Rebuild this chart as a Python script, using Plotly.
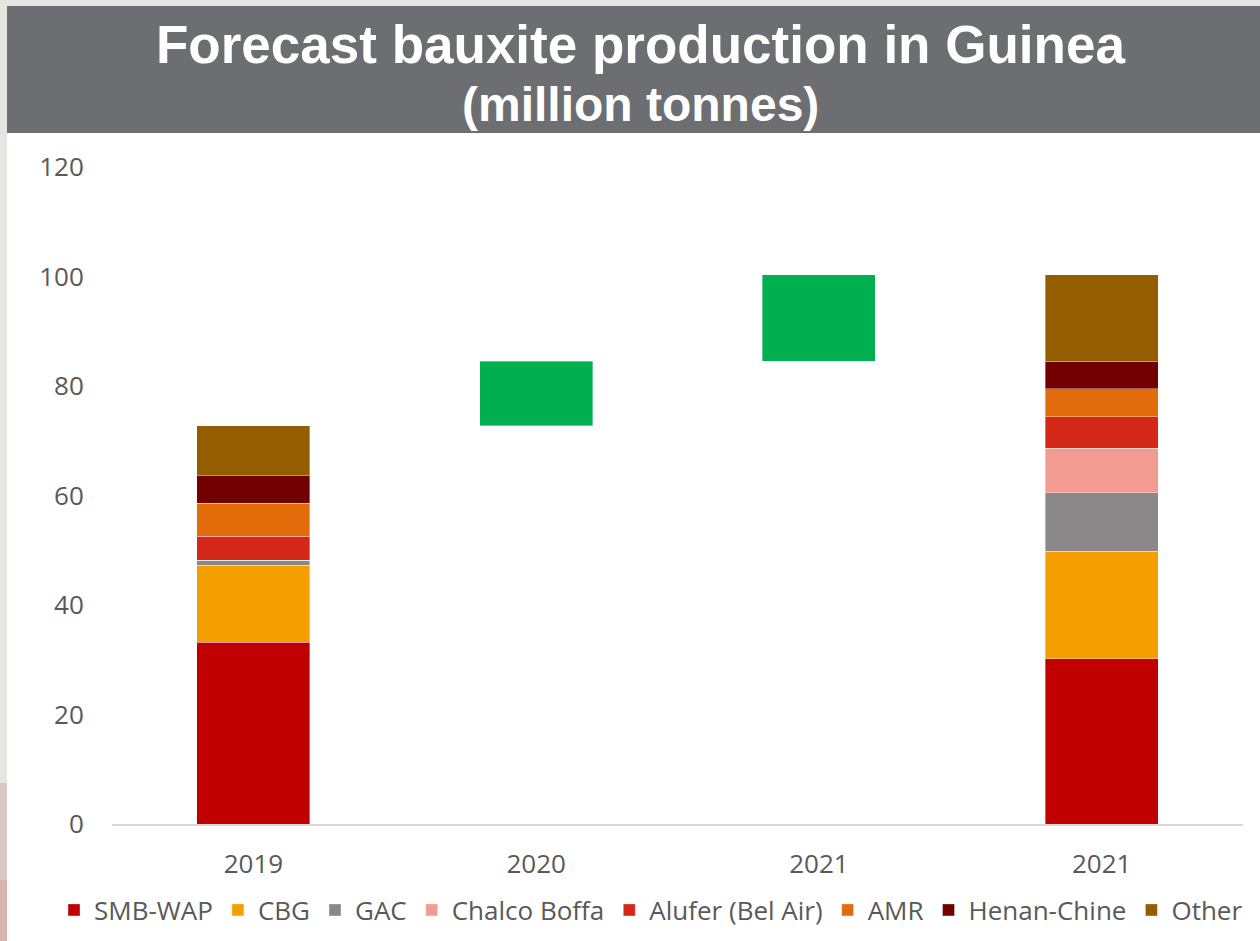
import plotly.graph_objects as go

# ---- data ----
tick_labels = ["2019", "2020", "2021", "2021"]
companies = ["SMB-WAP", "CBG", "GAC", "Chalco Boffa", "Alufer (Bel Air)", "AMR", "Henan-Chine", "Other"]
colors = ["#C00000", "#F59E00", "#8A8888", "#F29C91", "#D52718", "#E36C0A", "#720000", "#935D00"]
prod_2019 = [33.2, 14.1, 0.9, 0.0, 4.4, 6.0, 5.0, 9.1]
prod_2021 = [30.2, 19.6, 10.7, 8.1, 5.8, 5.1, 5.0, 15.8]
increase_steps = [11.8, 15.8]   # 2020 and 2021 increments
green = "#00B050"

x_pos = [0, 1, 2, 3]

fig = go.Figure()
for name, col, v19, v21 in zip(companies, colors, prod_2019, prod_2021):
    fig.add_trace(go.Bar(
        x=[x_pos[0], x_pos[3]], y=[v19, v21], name=name,
        marker=dict(color=col, line=dict(color="rgba(255,255,255,0.45)", width=0.8)),
        width=0.4,
    ))

bases = []
running = sum(prod_2019)
for s in increase_steps:
    bases.append(running)
    running += s
fig.add_trace(go.Bar(
    x=[x_pos[1], x_pos[2]], y=increase_steps, base=bases, showlegend=False,
    marker=dict(color=green, line=dict(color="rgba(255,255,255,0.45)", width=0.8)),
    width=0.4,
))

W, H = 1260, 941
L, R, T, B = 112, 17, 167, 117
pw, ph = W - L - R, H - T - B

def px(x):
    return (x - L) / pw

def py(y):
    return (H - B - y) / ph

shapes = [
    # page border strips
    dict(type="rect", xref="paper", yref="paper", x0=px(0), x1=px(7), y0=py(H), y1=py(0),
         fillcolor="#E6E5E1", line=dict(width=0), layer="below"),
    dict(type="rect", xref="paper", yref="paper", x0=px(0), x1=px(7), y0=py(880), y1=py(783),
         fillcolor="#DCC8C2", line=dict(width=0), layer="below"),
    dict(type="rect", xref="paper", yref="paper", x0=px(0), x1=px(7), y0=py(H), y1=py(880),
         fillcolor="#D9B4AE", line=dict(width=0), layer="below"),
    dict(type="rect", xref="paper", yref="paper", x0=px(0), x1=px(W), y0=py(6), y1=py(0),
         fillcolor="#E6E5E1", line=dict(width=0), layer="below"),
    # title bar
    dict(type="rect", xref="paper", yref="paper", x0=px(7), x1=px(W), y0=py(133), y1=py(6),
         fillcolor="#6D6E71", line=dict(width=0), layer="below"),
]

annotations = [
    dict(text="<b>Forecast bauxite production in Guinea</b>", xref="paper", yref="paper",
         x=px(640), y=py(44), xanchor="center", yanchor="middle", showarrow=False,
         font=dict(family="Liberation Sans, Arial", size=53, color="white")),
    dict(text="<b>(million tonnes)</b>", xref="paper", yref="paper",
         x=px(640), y=py(104), xanchor="center", yanchor="middle", showarrow=False,
         font=dict(family="Liberation Sans, Arial", size=48, color="white")),
]

tick_font = dict(family="Open Sans", size=26, color="#595959")
legend_font = dict(family="Open Sans", size=26, color="#595959")

fig.update_layout(
    width=W, height=H,
    margin=dict(l=L, r=R, t=T, b=B, pad=0, autoexpand=False),
    paper_bgcolor="white", plot_bgcolor="white",
    barmode="stack",
    shapes=shapes, annotations=annotations,
    xaxis=dict(range=[-0.5, 3.5], tickvals=x_pos, ticktext=tick_labels, tickfont=tick_font,
               showgrid=False, zeroline=False, showline=True, linecolor="#D9D9D9", linewidth=2,
               ticks="outside", ticklen=16, tickcolor="rgba(0,0,0,0)", fixedrange=True),
    yaxis=dict(range=[0, 120], tickvals=[0, 20, 40, 60, 80, 100, 120], tickfont=tick_font,
               showgrid=False, zeroline=False, showline=False,
               ticks="outside", ticklen=22, tickcolor="rgba(0,0,0,0)", fixedrange=True),
    legend=dict(orientation="h", xref="paper", yref="paper", x=px(54), y=py(910),
                xanchor="left", yanchor="middle", font=legend_font, traceorder="normal",
                itemwidth=30, bgcolor="rgba(0,0,0,0)", tracegroupgap=0),
    showlegend=True,
)

fig.write_html("out.html", config={"displayModeBar": False},
               post_script="document.body.style.margin='0px';document.body.style.overflow='hidden';")
